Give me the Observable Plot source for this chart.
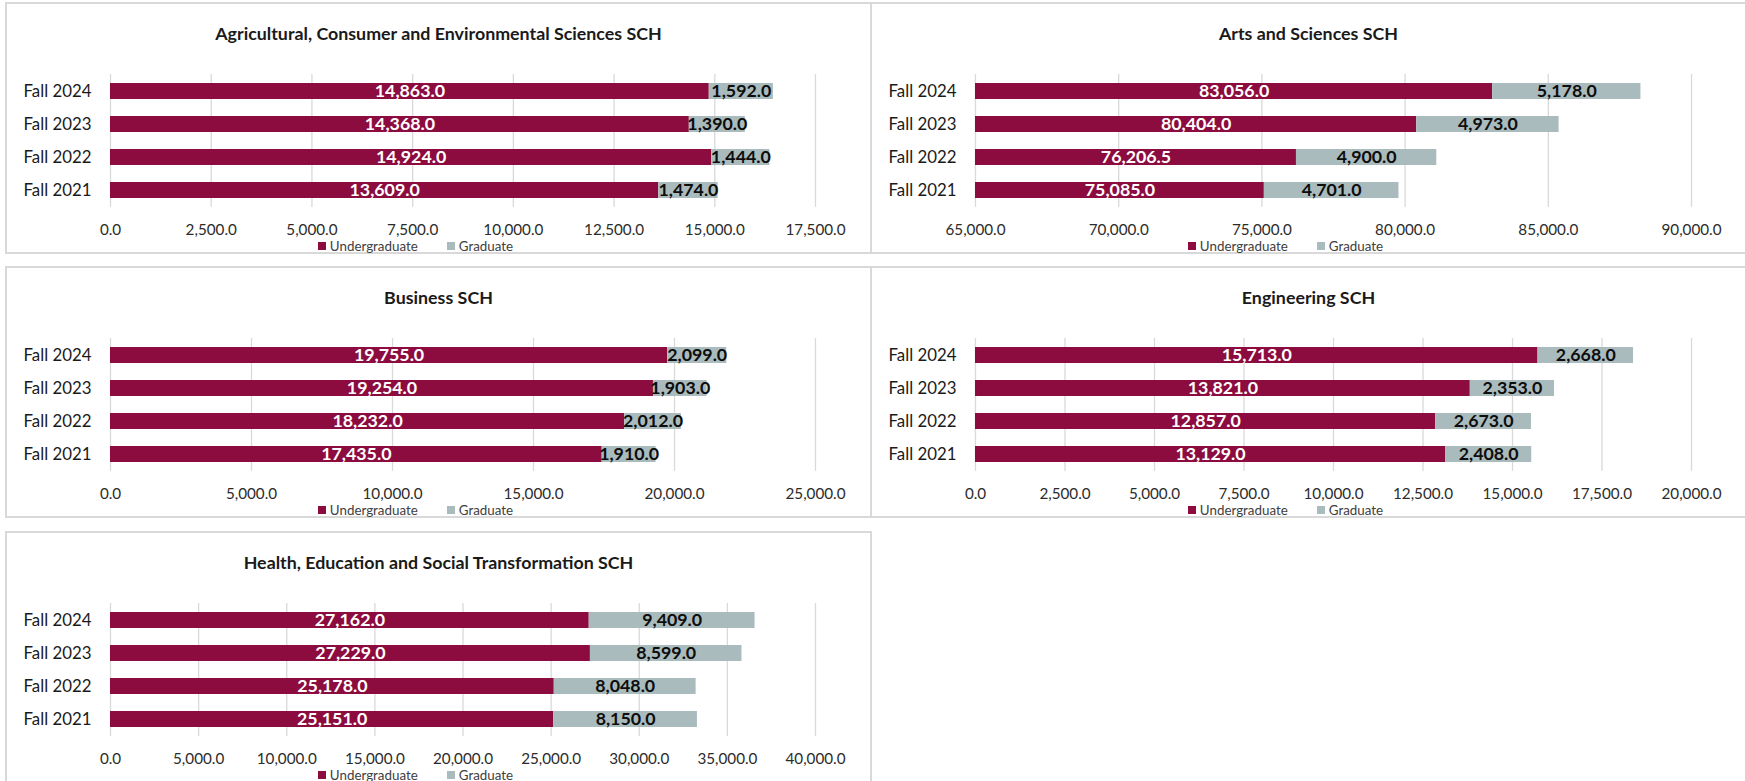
<!DOCTYPE html>
<html>
<head>
<meta charset="utf-8">
<script src="https://cdn.jsdelivr.net/npm/d3@7"></script>
<script src="https://cdn.jsdelivr.net/npm/@observablehq/plot@0.6"></script>
<style>
  html, body { margin: 0; padding: 0; background: #fff; }
  #root { position: relative; width: 1745px; height: 781px; overflow: hidden; background: #fff; }
  .panel { position: absolute; box-sizing: border-box; border: 2px solid #d9d9d9; background: #fff; }
  .panel svg { position: absolute; max-width: none !important; background: transparent; }
  .ttl { position: absolute; left: 0; right: 0; text-align: center; font-weight: bold; color: #1a1a1a; white-space: nowrap; line-height: 24px; }
  .leg { position: absolute; left: 0; right: 0; display: flex; justify-content: center; align-items: center; color: #404040; line-height: 18px; transform: translateX(-23px); }
  .leg .sw { display: inline-block; width: 8px; height: 8px; margin-right: 4px; }
  .leg .it { display: flex; align-items: center; }
  .leg .it + .it { margin-left: 29px; }
</style>
</head>
<body>
<div id="root"></div>
<script>
// ---------- data ----------
const years = ["Fall 2024", "Fall 2023", "Fall 2022", "Fall 2021"];
const seriesNames = ["Undergraduate", "Graduate"];

const agTitle = "Agricultural, Consumer and Environmental Sciences SCH";
const agUG = [14863, 14368, 14924, 13609];
const agGR = [1592, 1390, 1444, 1474];
const agTicks = [0, 2500, 5000, 7500, 10000, 12500, 15000, 17500];

const asTitle = "Arts and Sciences SCH";
const asUG = [83056, 80404, 76206.5, 75085];
const asGR = [5178, 4973, 4900, 4701];
const asTicks = [65000, 70000, 75000, 80000, 85000, 90000];

const buTitle = "Business SCH";
const buUG = [19755, 19254, 18232, 17435];
const buGR = [2099, 1903, 2012, 1910];
const buTicks = [0, 5000, 10000, 15000, 20000, 25000];

const enTitle = "Engineering SCH";
const enUG = [15713, 13821, 12857, 13129];
const enGR = [2668, 2353, 2673, 2408];
const enTicks = [0, 2500, 5000, 7500, 10000, 12500, 15000, 17500, 20000];

const heTitle = "Health, Education and Social Transformation SCH";
const heUG = [27162, 27229, 25178, 25151];
const heGR = [9409, 8599, 8048, 8150];
const heTicks = [0, 5000, 10000, 15000, 20000, 25000, 30000, 35000, 40000];

// ---------- style ----------
const UG_COLOR = "#8c0c3f";
const GR_COLOR = "#aabbbe";
const FAMILY = "Lato, 'Open Sans', sans-serif";
const fmt = d3.format(",.1f");

const ctx = document.createElement("canvas").getContext("2d");
function fit(text, target, weight) {
  ctx.font = `${weight} 100px ${FAMILY}`;
  return +(100 * target / ctx.measureText(text).width).toFixed(2);
}
const fsY = fit("Fall 2024", 68, "normal");
const fsTick = fit("15,000.0", 60, "normal");
const fsBar = fit("1,474.0", 60, "bold");
const fsTitle = fit(agTitle, 447, "bold");
const fsLeg = fit("Undergraduate", 88, "normal");

const panels = [
  {title: agTitle, ug: agUG, gr: agGR, ticks: agTicks, col: 0, row: 0},
  {title: asTitle, ug: asUG, gr: asGR, ticks: asTicks, col: 1, row: 0},
  {title: buTitle, ug: buUG, gr: buGR, ticks: buTicks, col: 0, row: 1},
  {title: enTitle, ug: enUG, gr: enGR, ticks: enTicks, col: 1, row: 1},
  {title: heTitle, ug: heUG, gr: heGR, ticks: heTicks, col: 0, row: 2}
];

const colLeft = [5, 870];
const colWidth = [867, 877];
const plotRight = [810, 821];   // plot right edge, relative to panel outer left
const rowTop = [2, 266, 531];
const PANEL_H = 252;

const root = document.getElementById("root");

for (const p of panels) {
  const div = document.createElement("div");
  div.className = "panel";
  div.style.left = colLeft[p.col] + "px";
  div.style.top = rowTop[p.row] + "px";
  div.style.width = colWidth[p.col] + "px";
  div.style.height = PANEL_H + "px";
  root.appendChild(div);

  const t = document.createElement("div");
  t.className = "ttl";
  t.style.top = "17px";
  t.style.fontFamily = FAMILY;
  t.style.fontSize = fsTitle + "px";
  t.textContent = p.title;
  div.appendChild(t);

  const xmin = p.ticks[0];
  const xmax = p.ticks[p.ticks.length - 1];
  const rows = [];
  years.forEach((y, i) => {
    rows.push({year: y, type: seriesNames[0], x1: 0, x2: p.ug[i], v: p.ug[i]});
    rows.push({year: y, type: seriesNames[1], x1: p.ug[i], x2: p.ug[i] + p.gr[i], v: p.gr[i]});
  });

  const W = colWidth[p.col];
  const tickPad = 22 - 0.35 * fsTick;
  const chart = Plot.plot({
    width: W,
    height: 168,
    marginTop: 0,
    marginBottom: 35,
    marginLeft: 105,
    marginRight: W - plotRight[p.col],
    style: {fontFamily: FAMILY, background: "transparent"},
    x: {domain: [xmin, xmax]},
    y: {domain: years, paddingInner: 0.51, paddingOuter: 0.255},
    color: {domain: seriesNames, range: [UG_COLOR, GR_COLOR]},
    marks: [
      Plot.gridX(p.ticks, {stroke: "#d9d9d9", strokeOpacity: 1, strokeWidth: 1.3}),
      Plot.barX(rows, {x1: "x1", x2: "x2", y: "year", fill: "type", clip: true}),
      Plot.text(rows, {
        x: d => (Math.max(d.x1, xmin) + d.x2) / 2,
        y: "year",
        text: d => fmt(d.v),
        fill: d => d.type === seriesNames[0] ? "#ffffff" : "#0d0d0d",
        fontWeight: "bold",
        fontSize: fsBar
      }),
      Plot.axisX(p.ticks, {tickSize: 0, tickPadding: tickPad, tickFormat: fmt, fontSize: fsTick, color: "#2b2b2b", label: null}),
      Plot.axisY({tickSize: 0, tickPadding: 19, fontSize: fsY, color: "#1a1a1a", label: null})
    ]
  });
  chart.style.left = "-2px";
  chart.style.top = "70px";
  div.appendChild(chart);

  const leg = document.createElement("div");
  leg.className = "leg";
  leg.style.top = "232.7px";
  leg.style.fontFamily = FAMILY;
  leg.style.fontSize = fsLeg + "px";
  [[seriesNames[0], UG_COLOR], [seriesNames[1], GR_COLOR]].forEach(([name, c]) => {
    const it = document.createElement("span");
    it.className = "it";
    const sw = document.createElement("span");
    sw.className = "sw";
    sw.style.background = c;
    it.appendChild(sw);
    it.appendChild(document.createTextNode(name));
    leg.appendChild(it);
  });
  div.appendChild(leg);
}
</script>
</body>
</html>
